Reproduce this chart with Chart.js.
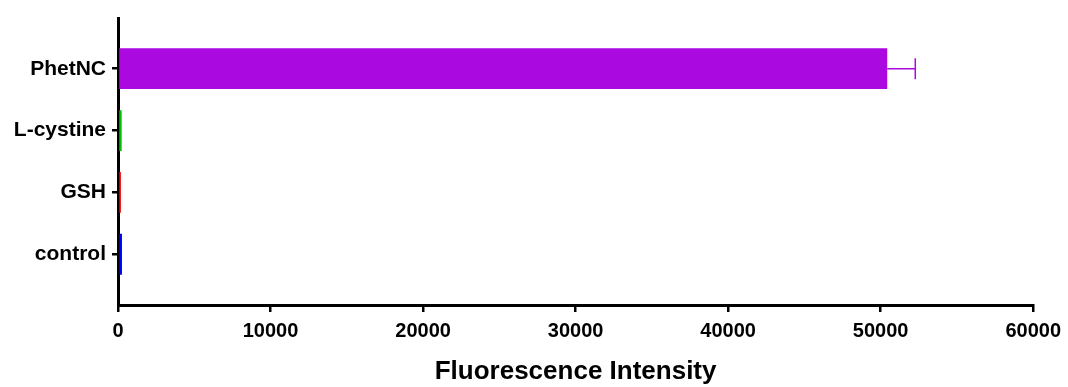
<!DOCTYPE html>
<html>
<head>
<meta charset="utf-8">
<script src="https://cdn.jsdelivr.net/npm/chart.js@4"></script>
<style>
  body { margin: 0; background: #fff; }
</style>
</head>
<body>
<canvas id="chart" width="1068" height="387"></canvas>
<script>
// bottom to top, as on the y axis
const groups = ['control', 'GSH', 'L-cystine', 'PhetNC'];
const intensity = [260, 190, 240, 50430];
const sd = [0, 0, 0, 1840];
const barColors = ['#0000FF', '#FF0000', '#00C000', '#AA0ADF'];
const xTicks = [0, 10000, 20000, 30000, 40000, 50000, 60000];

const font = { family: '"Liberation Sans", Arial, sans-serif', weight: 'bold' };

const errorBars = {
    id: 'errorBars',
    afterDatasetsDraw(chart) {
        const ctx = chart.ctx;
        const meta = chart.getDatasetMeta(0);
        const xs = chart.scales.x;
        ctx.save();
        meta.data.forEach((bar, i) => {
            if (!sd[i]) return;
            const x0 = xs.getPixelForValue(intensity[i]);
            const x1 = xs.getPixelForValue(intensity[i] + sd[i]);
            const y = bar.y;
            ctx.strokeStyle = barColors[i];
            ctx.lineWidth = 1.5;
            ctx.beginPath();
            ctx.moveTo(x0, y);
            ctx.lineTo(x1, y);
            ctx.moveTo(x1, y - 10.5);
            ctx.lineTo(x1, y + 10.5);
            ctx.stroke();
        });
        ctx.restore();
    }
};

new Chart(document.getElementById('chart'), {
    type: 'bar',
    data: {
        datasets: [{
            data: groups.map((g, i) => ({ x: intensity[i], y: i })),
            backgroundColor: barColors,
            borderWidth: 0,
            barPercentage: 0.66,
            categoryPercentage: 1
        }]
    },
    plugins: [errorBars],
    options: {
        indexAxis: 'y',
        responsive: false,
        animation: false,
        layout: { padding: { top: 11, right: 34 } },
        plugins: { legend: { display: false }, tooltip: { enabled: false } },
        scales: {
            x: {
                type: 'linear',
                min: 0,
                max: 60000,
                afterBuildTicks: axis => { axis.ticks = xTicks.map(v => ({ value: v })); },
                afterFit: axis => { axis.height = 82; },
                border: { color: '#000', width: 3 },
                grid: { drawOnChartArea: false, color: '#000', lineWidth: 2.5, tickLength: 7 },
                ticks: {
                    color: '#000',
                    font: { ...font, size: 20 },
                    padding: 7,
                    maxRotation: 0,
                    callback: v => String(v)
                },
                title: {
                    display: true,
                    text: 'Fluorescence Intensity',
                    color: '#000',
                    font: { ...font, size: 26 },
                    padding: { top: 10, bottom: 0 }
                }
            },
            y: {
                type: 'linear',
                min: -0.82,
                max: 3.81,
                offset: false,
                afterBuildTicks: axis => { axis.ticks = groups.map((g, i) => ({ value: i })); },
                afterFit: axis => { axis.width = 118; },
                border: { color: '#000', width: 3 },
                grid: { offset: false, drawOnChartArea: false, color: '#000', lineWidth: 2.5, tickLength: 6 },
                ticks: {
                    color: '#000',
                    font: { ...font, size: 21 },
                    padding: 6,
                    callback: v => groups[v]
                }
            }
        }
    }
});
</script>
</body>
</html>
